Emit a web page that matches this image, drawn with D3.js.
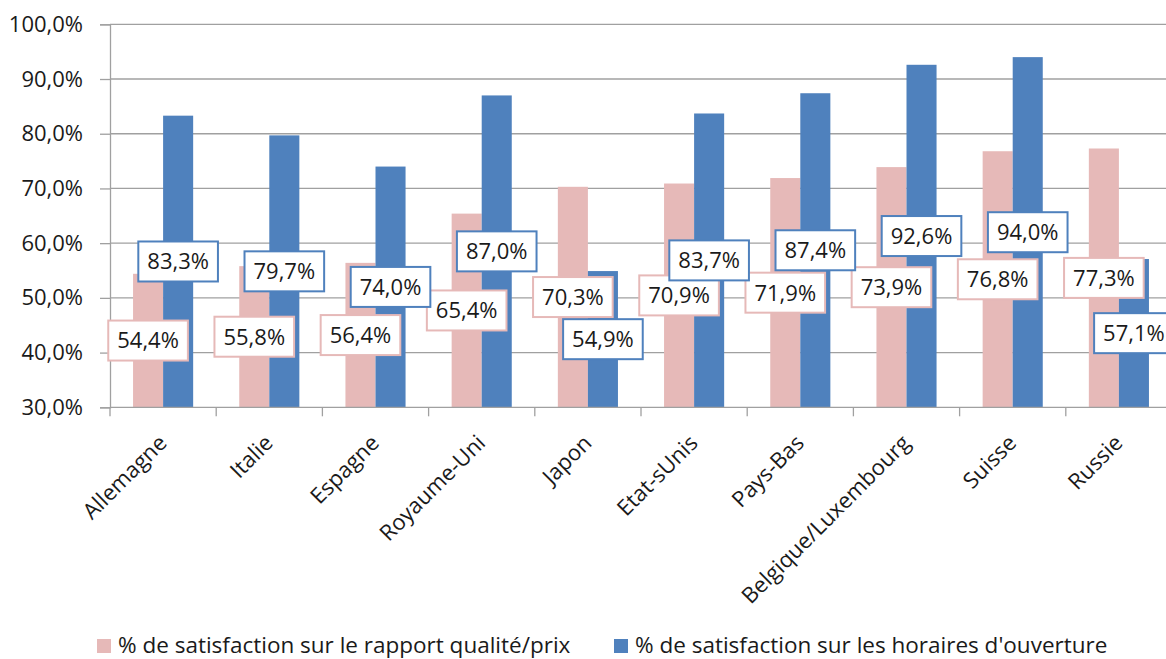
<!DOCTYPE html>
<html>
<head>
<meta charset="utf-8">
<script src="https://cdn.jsdelivr.net/npm/d3@7"></script>
<style>
  html, body { margin: 0; padding: 0; background: #fff; }
  svg { display: block; }
  text { font-family: "Open Sans", "Noto Sans", sans-serif; fill: #1a1a1a; }
</style>
</head>
<body>
<svg id="chart" width="1166" height="659"></svg>
<script>
const categories = ["Allemagne", "Italie", "Espagne", "Royaume-Uni", "Japon", "Etat-sUnis", "Pays-Bas", "Belgique/Luxembourg", "Suisse", "Russie"];
const qualitePrix = [54.4, 55.8, 56.4, 65.4, 70.3, 70.9, 71.9, 73.9, 76.8, 77.3];
const horaires = [83.3, 79.7, 74.0, 87.0, 54.9, 83.7, 87.4, 92.6, 94.0, 57.1];
const seriesNames = ["% de satisfaction sur le rapport qualité/prix", "% de satisfaction sur les horaires d'ouverture"];
const yTicks = [30, 40, 50, 60, 70, 80, 90, 100];

const colors = ["#e6b9b8", "#4f81bd"];
const fmt = v => d3.format(".1f")(v).replace(".", ",") + "%";

const svg = d3.select("#chart");
const plotL = 110, plotR = 1172, plotT = 24.3, plotB = 407.3;

const x = d3.scaleBand().domain(categories).range([plotL, plotR]).padding(0);
const y = d3.scaleLinear().domain([30, 100]).range([plotB, plotT]);
const barW = x.bandwidth() * 0.283;

// gridlines
svg.append("g")
  .selectAll("line").data(yTicks.slice(1)).join("line")
  .attr("x1", plotL).attr("x2", plotR)
  .attr("y1", d => y(d)).attr("y2", d => y(d))
  .attr("stroke", "#a0a0a0").attr("stroke-width", 1.3);

// y axis
const yAxis = svg.append("g").attr("transform", `translate(${plotL},0)`)
  .call(d3.axisLeft(y).tickValues(yTicks).tickSize(10).tickPadding(17).tickFormat(fmt));
yAxis.select(".domain").attr("stroke", "#a0a0a0").attr("stroke-width", 1.3);
yAxis.selectAll(".tick line").attr("stroke", "#a0a0a0").attr("stroke-width", 1.3);
yAxis.selectAll(".tick text").attr("font-size", 22).attr("font-family", '"Open Sans", sans-serif').attr("fill", "#1a1a1a");

// bars
const series = [qualitePrix, horaires];
series.forEach((vals, si) => {
  svg.append("g").selectAll("rect").data(vals).join("rect")
    .attr("x", (d, i) => x(categories[i]) + x.bandwidth() / 2 - barW + si * barW)
    .attr("width", barW)
    .attr("y", d => y(d))
    .attr("height", d => y(30) - y(d))
    .attr("fill", colors[si]);
});

// x axis
const xAxis = svg.append("g").attr("transform", `translate(0,${plotB})`);
xAxis.append("line").attr("x1", plotL).attr("x2", plotR).attr("y1", 0).attr("y2", 0)
  .attr("stroke", "#a0a0a0").attr("stroke-width", 1.3);
xAxis.selectAll("line.tk").data(categories.concat(["_end"])).join("line").attr("class", "tk")
  .attr("x1", (d, i) => plotL + i * x.bandwidth()).attr("x2", (d, i) => plotL + i * x.bandwidth())
  .attr("y1", 0).attr("y2", 9).attr("stroke", "#a0a0a0").attr("stroke-width", 1.3);
xAxis.selectAll("text").data(categories).join("text")
  .attr("transform", d => `translate(${x(d) + x.bandwidth() / 2 - 6},${26}) rotate(-45)`)
  .attr("text-anchor", "end")
  .attr("dy", "0.71em")
  .attr("font-size", 22)
  .text(d => d);

// data labels (centered in bar between axis and value)
series.forEach((vals, si) => {
  const g = svg.append("g");
  vals.forEach((v, i) => {
    const cx = x(categories[i]) + x.bandwidth() / 2 - barW / 2 + si * barW;
    const cy = y((30 + v) / 2);
    const lg = g.append("g").attr("transform", `translate(${cx},${cy})`);
    const rect = lg.append("rect");
    const t = lg.append("text").attr("text-anchor", "middle").attr("dy", "0.36em")
      .attr("font-size", 22).text(fmt(v));
    const bb = t.node().getBBox();
    const w = bb.width + 18, h = 40;
    rect.attr("x", -w / 2).attr("y", -h / 2).attr("width", w).attr("height", h)
      .attr("fill", "#fff").attr("stroke", colors[si]).attr("stroke-width", 2);
  });
});

// legend
const legend = svg.append("g");
const lx = [97, 614];
seriesNames.forEach((name, i) => {
  legend.append("rect").attr("x", lx[i]).attr("y", 639).attr("width", 14).attr("height", 14).attr("fill", colors[i]);
  legend.append("text").attr("x", lx[i] + 21).attr("y", 653).attr("font-size", 22.5).text(name);
});
</script>
</body>
</html>
